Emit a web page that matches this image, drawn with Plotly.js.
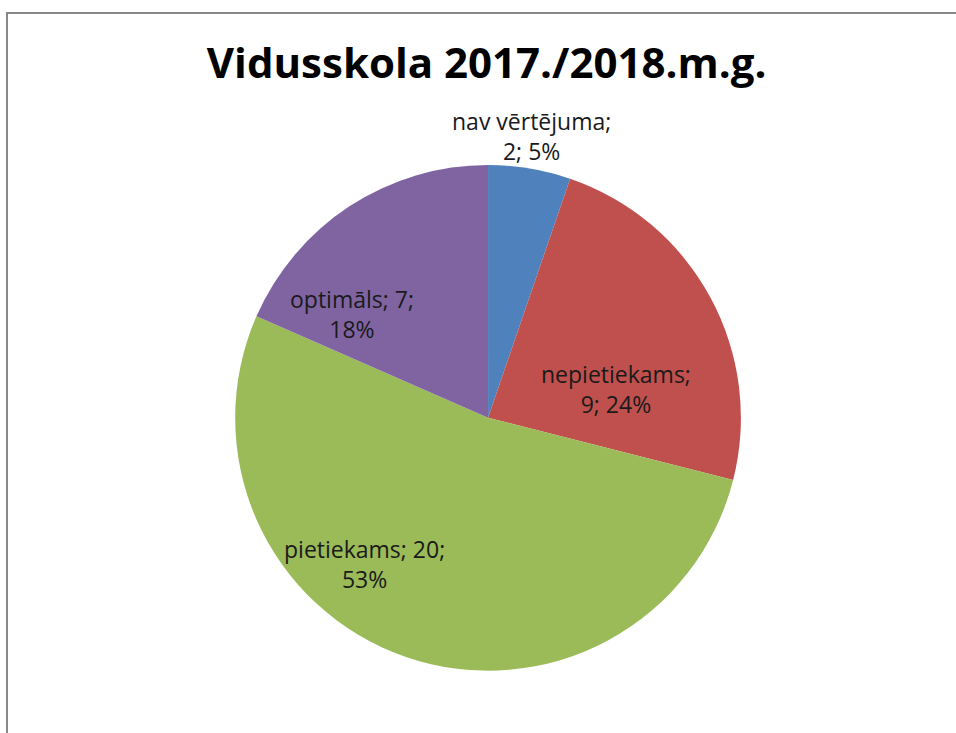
<!DOCTYPE html>
<html><head><meta charset="utf-8">
<script src="https://cdn.plot.ly/plotly-3.0.1.min.js"></script>
<style>html,body{margin:0;padding:0;background:#fff;}#chart{width:956px;height:733px;}</style>
</head><body><div id="chart"></div>
<script>
const categories = ["nav vērtējuma", "nepietiekams", "pietiekams", "optimāls"];
const values = [2, 9, 20, 7];
const colors = ["#4F81BD", "#C0504D", "#9BBB59", "#8064A2"];
const titleText = "Vidusskola 2017./2018.m.g.";
// label line-break style (Excel best-fit wrapping)
const labelBreakAfterValue = [false, false, true, true];
// label placement style: radius fraction and angle offset (deg) from the slice midpoint
const labelRadius = [1.127, 0.52, 0.755, 0.676];
const labelAngleOffset = [-0.8, 15.7, 21.2, -19.4];

const W = 956, H = 733;
const dom = {x: [0.246, 0.775], y: [0.085, 0.775]};
const cx = (dom.x[0] + dom.x[1]) / 2 * W;
const cy = (1 - (dom.y[0] + dom.y[1]) / 2) * H;
const R = Math.min((dom.x[1] - dom.x[0]) * W, (dom.y[1] - dom.y[0]) * H) / 2;

const total = values.reduce((a, b) => a + b, 0);
const annotations = [];
let cum = 0;
values.forEach((v, i) => {
  const mid = (cum + v / 2) / total * 360;
  cum += v;
  const a = (mid + labelAngleOffset[i]) * Math.PI / 180;
  const r = R * labelRadius[i];
  const px = cx + r * Math.sin(a);
  const py = cy - r * Math.cos(a);
  const pct = Math.round(v / total * 100) + "%";
  const text = labelBreakAfterValue[i]
    ? categories[i] + "; " + v + ";<br>" + pct
    : categories[i] + ";<br>" + v + "; " + pct;
  annotations.push({
    xref: "paper", yref: "paper", x: px / W, y: 1 - py / H,
    xanchor: "center", yanchor: "middle", showarrow: false, align: "center",
    text: text,
    font: {family: "Open Sans, sans-serif", size: 23, color: "#1a1a1a"}
  });
});

const trace = {
  type: "pie",
  labels: categories,
  values: values,
  sort: false,
  direction: "clockwise",
  rotation: 0,
  marker: {colors: colors, line: {width: 0}},
  textinfo: "none",
  hoverinfo: "label+value+percent",
  showlegend: false,
  automargin: false,
  domain: dom
};

const layout = {
  width: W, height: H,
  margin: {l: 0, r: 0, t: 0, b: 0},
  paper_bgcolor: "#fff",
  title: {text: "<b>" + titleText + "</b>", font: {family: "Open Sans, sans-serif", size: 42, color: "#000"}, x: 0.509, xanchor: "center", y: 0.914, yanchor: "middle"},
  annotations: annotations,
  shapes: [
    {type: "line", xref: "paper", yref: "paper", x0: 7 / W, x1: 7 / W, y0: 0, y1: 1 - 13 / H, line: {color: "#888", width: 2}},
    {type: "line", xref: "paper", yref: "paper", x0: 6 / W, x1: 1, y0: 1 - 13 / H, y1: 1 - 13 / H, line: {color: "#888", width: 2}}
  ]
};
Plotly.newPlot("chart", [trace], layout, {displayModeBar: false, staticPlot: true});
</script></body></html>
